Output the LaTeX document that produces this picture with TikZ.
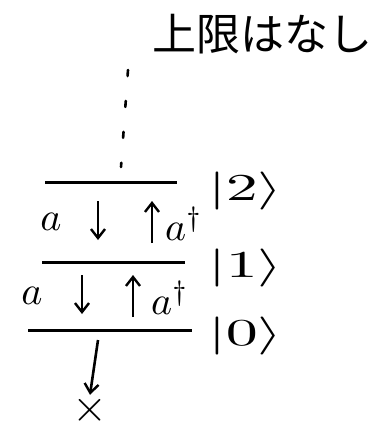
\documentclass[tikz,border=0pt]{standalone}
\usepackage{fontspec}
\usepackage{graphicx}
\newfontfamily\jpfont{Noto Sans CJK JP}
\usetikzlibrary{arrows.meta,positioning}
\newcommand{\bigket}[1]{\scalebox{6.4}[3.8]{$|#1\rangle$}}
\newcommand{\bigop}[1]{\scalebox{4}{$#1$}}
\tikzset{
  level/.style={line width=3pt},
  hop/.style={-{Straight Barb[length=9pt,width=14pt,line width=2.4pt]},line width=2.6pt},
  dots/.style={line width=2.6pt,line cap=round,dash pattern=on 6pt off 25pt},
  ket/.style={inner sep=0pt},
  op/.style={inner sep=0pt},
}
\begin{document}
\begin{tikzpicture}[x=1pt,y=-1pt]
  \useasboundingbox (0,0) rectangle (386,423);
  \node[font=\jpfont\fontsize{44}{46}\selectfont,inner sep=0pt] (title) at (262,34) {上限はなし};
  % levels and kets
  \foreach \n/\y/\xa/\xb/\ky in {2/182/45/177/191,1/262/42/185/268,0/330/28/192/336}
    {\coordinate (L\n w) at (\xa,\y);
     \coordinate (L\n e) at (\xb,\y);
     \draw[level] (L\n w) -- (L\n e);
     \node[ket,anchor=west] (k\n) at (208,\ky) {\bigket{\n}};}
  % no upper limit
  \coordinate (top) at (128,70);
  \coordinate (L2m) at (121,167);
  \draw[dots] (top) -- (L2m);
  % operators between levels
  \foreach \r/\y/\xa/\xd/\xu/\xb in {21/222/51/98/152/184,10/296/32/82/133/170}
    {\node[op] (a\r) at (\xa,\y) {\bigop{a}};
     \coordinate (d\r s) at (\xd,\y-21);
     \coordinate (d\r e) at (\xd,\y+18);
     \coordinate (u\r s) at (\xu,\y+21);
     \coordinate (u\r e) at (\xu,\y-21);
     \draw[hop] (d\r s) -- (d\r e);
     \draw[hop] (u\r s) -- (u\r e);
     \node[op] (ad\r) at (\xb,\y+2) {\bigop{a^{\dagger}}};}
  % below the ground state
  \node[inner sep=0pt] (X) at (90,410) {\scalebox{4.5}{$\times$}};
  \coordinate (d0s) at (98,340);
  \draw[hop] (d0s) -- (X.north);
\end{tikzpicture}
\end{document}
